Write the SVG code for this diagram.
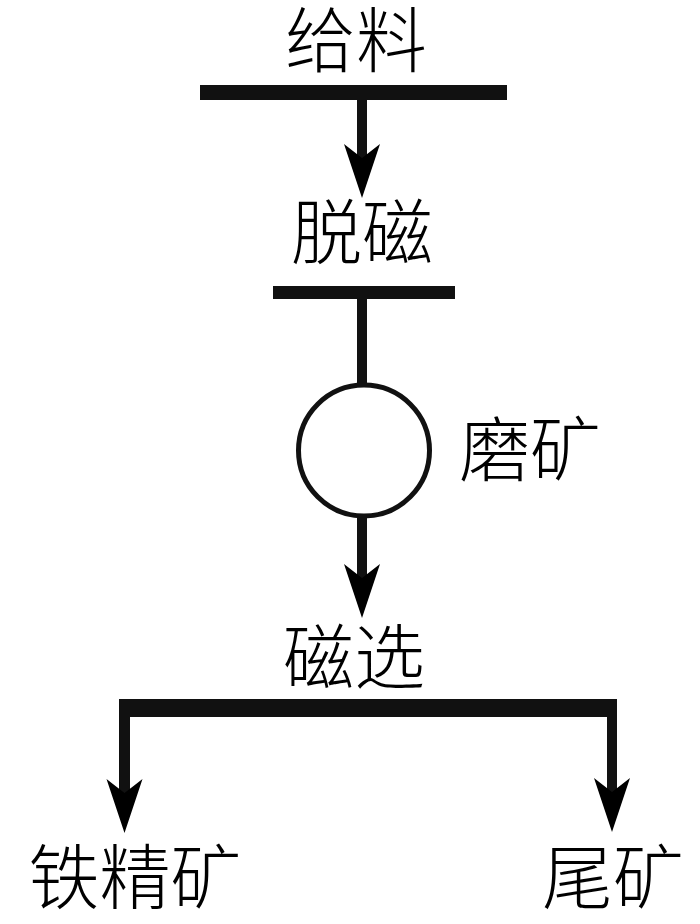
<svg xmlns="http://www.w3.org/2000/svg" width="700" height="924" viewBox="0 0 700 924">
<style>
.lbl{font-family:"Noto Sans CJK SC","Noto Sans CJK TC",sans-serif;font-size:71px;fill:#000;text-anchor:middle;font-weight:300}
.bar{fill:#111}
.ln{stroke:#111;stroke-width:10;fill:none}
.ah{fill:#000}
</style>
<defs>
<path id="head" d="M0,0 L-18,-54 L0,-40 L18,-54 Z"/>
</defs>
<g id="feed">
<rect class="bar" x="200" y="85" width="307" height="15"/>
<text class="lbl" x="356" y="66">给料</text>
</g>
<g id="demag">
<rect class="bar" x="273" y="286" width="182" height="13"/>
<text class="lbl" x="362" y="258">脱磁</text>
</g>
<g id="grinding">
<circle cx="364" cy="450.5" r="65.5" fill="#fff" stroke="#111" stroke-width="5"/>
<text class="lbl" x="530" y="475">磨矿</text>
</g>
<g id="magsep">
<text class="lbl" x="354" y="683">磁选</text>
</g>
<g id="concentrate">
<text class="lbl" x="135" y="903">铁精矿</text>
</g>
<g id="tailings">
<text class="lbl" x="613" y="903">尾矿</text>
</g>
<g id="connectors">
<line class="ln" x1="362" y1="100" x2="362" y2="165"/>
<use href="#head" class="ah" x="362" y="198"/>
<line class="ln" x1="362" y1="299" x2="362" y2="385"/>
<line class="ln" x1="362" y1="516" x2="362" y2="585"/>
<use href="#head" class="ah" x="362" y="618"/>
<path class="bar" d="M119,699 H617 V795 H607 V717 H130 V795 H119 Z"/>
<use href="#head" class="ah" x="124.5" y="833"/>
<use href="#head" class="ah" x="612" y="832"/>
</g>
</svg>
